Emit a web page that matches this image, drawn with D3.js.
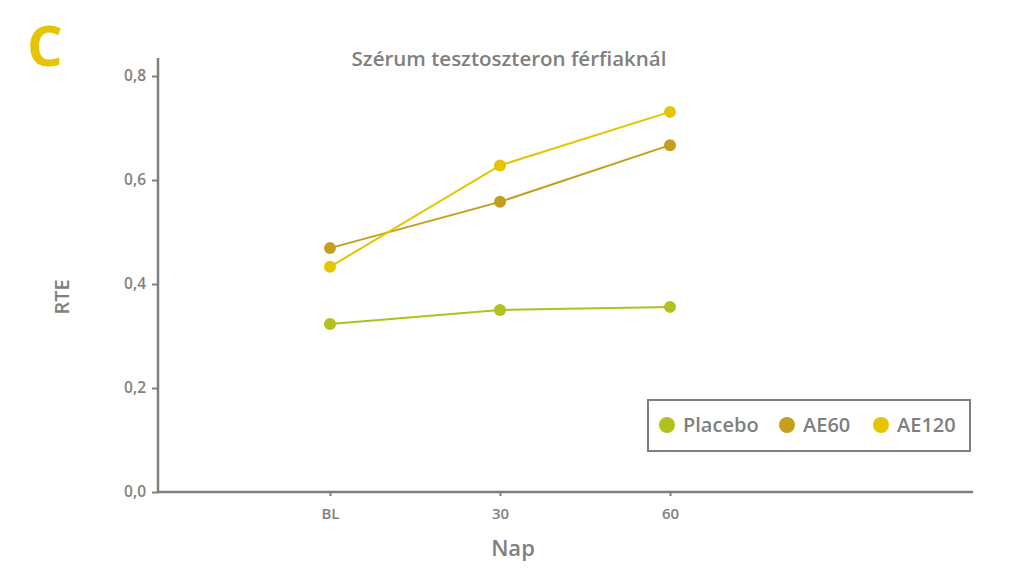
<!DOCTYPE html>
<html><head><meta charset="utf-8">
<script src="https://cdn.jsdelivr.net/npm/d3@7"></script>
<style>body{margin:0;background:#fff}svg{display:block}text{font-family:"Open Sans",Lato,sans-serif}</style>
</head><body>
<svg id="c" width="1024" height="587"></svg>
<script>
const categories = ["BL", "30", "60"];
const seriesNames = ["Placebo", "AE60", "AE120"];
const placebo = [0.323, 0.350, 0.356];
const ae60 = [0.469, 0.558, 0.667];
const ae120 = [0.433, 0.628, 0.731];
const yTicks = [0, 0.2, 0.4, 0.6, 0.8];
const colors = ["#b2c11b", "#c49f1c", "#e5c400"];

const series = [placebo, ae60, ae120].map((v, i) => ({name: seriesNames[i], values: v, color: colors[i]}));
const svg = d3.select("#c");
const gray = "#7f7f7f";

const y = d3.scaleLinear().domain([0, 0.8]).range([492, 76]);
const x = d3.scalePoint().domain(categories).range([330, 670]);

// Y axis
const yAxis = d3.axisLeft(y).tickValues(yTicks).tickFormat(d => d3.format(".1f")(d).replace(".", ",")).tickSize(6).tickPadding(6);
const gy = svg.append("g").attr("transform", "translate(158,0)").call(yAxis);
gy.select(".domain").remove();
gy.append("line").attr("x1", 0).attr("x2", 0).attr("y1", 58).attr("y2", 493).attr("stroke", gray).attr("stroke-width", 2.5);
gy.selectAll(".tick line").attr("stroke", gray).attr("stroke-width", 2);
gy.selectAll(".tick text").attr("fill", gray).style("font-size", "15.5px").style("font-weight", "600");

// X axis
const xAxis = d3.axisBottom(x).tickSize(4).tickPadding(12);
const gx = svg.append("g").attr("transform", "translate(0,492)").call(xAxis);
gx.select(".domain").remove();
gx.append("line").attr("x1", 157).attr("x2", 973).attr("y1", 0).attr("y2", 0).attr("stroke", gray).attr("stroke-width", 2.5);
gx.selectAll(".tick line").attr("stroke", gray).attr("stroke-width", 2);
gx.selectAll(".tick text").attr("fill", gray).style("font-size", "15px").style("font-weight", "600");

// Lines & points
const line = d3.line().x((d, i) => x(categories[i])).y(d => y(d));
series.forEach(s => {
  svg.append("path").datum(s.values).attr("d", line).attr("fill", "none").attr("stroke", s.color).attr("stroke-width", 2);
  svg.selectAll(null).data(s.values).enter().append("circle")
    .attr("cx", (d, i) => x(categories[i])).attr("cy", d => y(d)).attr("r", 6).attr("fill", s.color);
});

// Title
svg.append("text").attr("x", 509).attr("y", 66).attr("text-anchor", "middle").attr("fill", gray)
  .style("font-size", "20.5px").style("font-weight", "600").text("Szérum tesztoszteron férfiaknál");
// Panel letter
svg.append("text").attr("x", 27).attr("y", 66).attr("fill", "#e5c400").style("font-size", "56px").style("font-weight", "700").text("C");
// Axis titles
svg.append("text").attr("x", 513).attr("y", 556).attr("text-anchor", "middle").attr("fill", gray)
  .style("font-size", "22px").style("font-weight", "600").text("Nap");
svg.append("text").attr("transform", "translate(69,297) rotate(-90)").attr("text-anchor", "middle").attr("fill", gray)
  .style("font-size", "20px").style("font-weight", "600").text("RTE");

// Legend
svg.append("rect").attr("x", 648).attr("y", 400).attr("width", 322).attr("height", 51).attr("fill", "#fff").attr("stroke", gray).attr("stroke-width", 2);
const legX = [667, 787, 881];
series.forEach((s, i) => {
  svg.append("circle").attr("cx", legX[i]).attr("cy", 425).attr("r", 8).attr("fill", s.color);
  svg.append("text").attr("x", legX[i] + 16).attr("y", 432).attr("fill", gray).style("font-size", "20px").style("font-weight", "600").text(s.name);
});
</script>
</body></html>
